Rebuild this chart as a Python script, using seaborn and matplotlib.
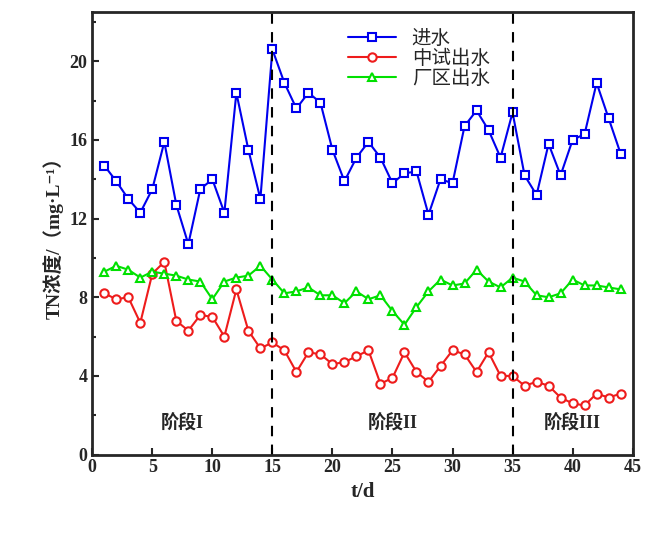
import matplotlib
matplotlib.use("Agg")
import matplotlib.pyplot as plt
import seaborn as sns
import pandas as pd
from matplotlib.ticker import MultipleLocator

days = list(range(1, 45))
inflow = [14.7,13.9,13.0,12.3,13.5,15.9,12.7,10.7,13.5,14.0,12.3,18.4,15.5,13.0,20.6,18.9,17.6,18.4,17.9,15.5,13.9,15.1,15.9,15.1,13.8,14.3,14.4,12.2,14.0,13.8,16.7,17.5,16.5,15.1,17.4,14.2,13.2,15.8,14.2,16.0,16.3,18.9,17.1,15.3]
pilot = [8.2,7.9,8.0,6.7,9.2,9.8,6.8,6.3,7.1,7.0,6.0,8.4,6.3,5.4,5.7,5.3,4.2,5.2,5.1,4.6,4.7,5.0,5.3,3.6,3.9,5.2,4.2,3.7,4.5,5.3,5.1,4.2,5.2,4.0,4.0,3.5,3.7,3.5,2.9,2.6,2.5,3.1,2.9,3.1]
plant = [9.3,9.6,9.4,9.0,9.3,9.2,9.1,8.9,8.8,7.9,8.8,9.0,9.1,9.6,8.9,8.2,8.3,8.5,8.1,8.1,7.7,8.3,7.9,8.1,7.3,6.6,7.5,8.3,8.9,8.6,8.7,9.4,8.8,8.5,9.0,8.8,8.1,8.0,8.2,8.9,8.6,8.6,8.5,8.4]
series = ["进水", "中试出水", "厂区出水"]
stages = ["阶段I", "阶段II", "阶段III"]

sns.set_style("ticks")
plt.rcParams['font.family'] = ['Liberation Serif', 'Noto Sans CJK SC', 'DejaVu Sans']

df = pd.DataFrame({"d": days * 3,
                   "v": inflow + pilot + plant,
                   "s": [series[0]] * 44 + [series[1]] * 44 + [series[2]] * 44})

fig = plt.figure(figsize=(6.59, 5.51), dpi=100)
ax = fig.add_axes([0.14, 0.175, 0.82, 0.803])
colors = {"进水": "#0000ee", "中试出水": "#ee1c1c", "厂区出水": "#00e000"}
markers = {"进水": "s", "中试出水": "o", "厂区出水": "^"}
for s in series:
    sub = df[df.s == s]
    sns.lineplot(data=sub, x="d", y="v", ax=ax, color=colors[s], marker=markers[s],
                 markerfacecolor="white", markeredgecolor=colors[s], markeredgewidth=1.5,
                 markersize=6, linewidth=1.5, label=s)
for xv in [15, 35]:
    ax.axvline(xv, color="black", linestyle=(0, (5, 4)), linewidth=1.5)
ax.set_xlim(0, 45)
ax.set_ylim(0, 22.5)
ax.xaxis.set_major_locator(MultipleLocator(5))
ax.yaxis.set_major_locator(MultipleLocator(4))
ax.yaxis.set_minor_locator(MultipleLocator(2))
ax.tick_params(direction="in", width=1.5, length=5, labelsize=13)
ax.tick_params(which="minor", direction="in", width=1.5, length=3)
for lab in ax.get_xticklabels() + ax.get_yticklabels():
    lab.set_fontweight("bold")
for sp in ax.spines.values():
    sp.set_linewidth(2)
ax.set_xlabel("t/d", fontsize=15, fontweight="bold")
ax.set_ylabel("TN浓度/（mg·L⁻¹）", fontsize=14, fontweight="bold")
for xv, t in zip([7.5, 25, 40], stages):
    ax.text(xv, 1.3, t, ha="center", fontsize=13, fontweight="bold")
leg = ax.legend(loc="upper left", bbox_to_anchor=(0.44, 1.0), frameon=False, fontsize=14,
                handlelength=2.5, labelspacing=0.1)
fig.savefig("out.png", dpi=100)
